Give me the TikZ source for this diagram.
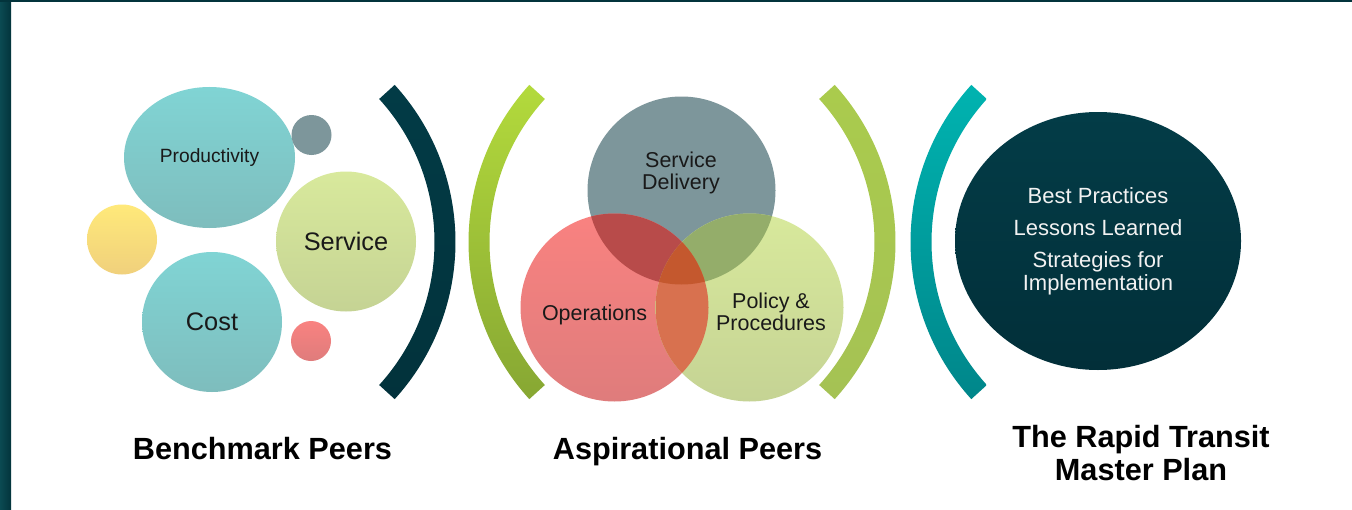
\documentclass[tikz,border=0pt]{standalone}
\usepackage{fontspec}
\setmainfont{Liberation Sans}
\usetikzlibrary{shapes.geometric}

\definecolor{tealtop}{HTML}{80D4D4}
\definecolor{tealbot}{HTML}{7EBDBD}
\definecolor{grntop}{HTML}{D8E99C}
\definecolor{grnbot}{HTML}{C5D394}
\definecolor{yeltop}{HTML}{FFE97A}
\definecolor{yelbot}{HTML}{F0D07C}
\definecolor{redtop}{HTML}{F98280}
\definecolor{redbot}{HTML}{DF7C7C}
\definecolor{slate}{HTML}{7D969B}
\definecolor{darkteal}{HTML}{023B46}
\definecolor{limetop}{HTML}{B3DA3C}
\definecolor{limebot}{HTML}{87A733}
\definecolor{oliveltop}{HTML}{AACB4D}
\definecolor{olivebot}{HTML}{A5C254}
\definecolor{aquatop}{HTML}{00B3B0}
\definecolor{aquabot}{HTML}{00868A}
\definecolor{navytop}{HTML}{033C47}
\definecolor{navybot}{HTML}{022F39}
\definecolor{sdop}{HTML}{B84B4A}
\definecolor{sdpol}{HTML}{94AD6A}
\definecolor{oppol}{HTML}{D8714F}
\definecolor{triple}{HTML}{C4582E}
\definecolor{framedk}{HTML}{03343C}
\definecolor{framelt}{HTML}{0B4A52}

\tikzset{
  bubble/.style={circle, inner sep=0pt, text=black!90},
  venn/.style={circle, inner sep=0pt, minimum size=188*0.75pt},
  vtext/.style={inner sep=0pt, align=center, text=black!90, font=\fontsize{16.1}{16.5}\selectfont},
  heading/.style={inner sep=0pt, align=center, font=\fontsize{23}{24.75}\selectfont\bfseries}
}

\begin{document}
\begin{tikzpicture}[x=0.75pt,y=-0.75pt]
\useasboundingbox (0,0) rectangle (1352,510);
\fill[white] (0,0) rectangle (1352,510);
\shade[left color=framelt, right color=framedk] (0,0) rectangle (11,510);
\fill[framedk] (0,0) rectangle (1352,2);

% benchmark peers
\node[bubble, ellipse, minimum width=171*0.75pt, minimum height=141*0.75pt, top color=tealtop, bottom color=tealbot, font=\fontsize{14.4}{16}\selectfont] (prod) at (209.5,157.5) {Productivity};
\node[bubble, minimum size=40*0.75pt, fill=slate] (dotgray) at (311.5,135) {};
\node[bubble, minimum size=70*0.75pt, top color=yeltop, bottom color=yelbot] (dotyel) at (122,239.5) {};
\node[bubble, minimum size=140*0.75pt, top color=grntop, bottom color=grnbot, font=\fontsize{19}{21}\selectfont] (serv) at (346,241.5) {Service};
\node[bubble, minimum size=140*0.75pt, top color=tealtop, bottom color=tealbot, font=\fontsize{19}{21}\selectfont] (cost) at (212,322) {Cost};
\node[bubble, minimum size=40*0.75pt, top color=redtop, bottom color=redbot] (dotred) at (311,341) {};

% brackets
\shade[top color=darkteal, bottom color=darkteal!85!black, shift={(222,242)}] (-42.3:233.5) arc[start angle=-42.3, end angle=42.3, radius=233.5] -- (42.3:212.5) arc[start angle=42.3, end angle=-42.3, radius=212.5] -- cycle;
\shade[top color=limetop, bottom color=limebot, shift={(702,242)}] (137.7:233.5) arc[start angle=137.7, end angle=222.3, radius=233.5] -- (222.3:212.5) arc[start angle=222.3, end angle=137.7, radius=212.5] -- cycle;
\shade[top color=oliveltop, bottom color=olivebot, shift={(662,242)}] (-42.3:233.5) arc[start angle=-42.3, end angle=42.3, radius=233.5] -- (42.3:212.5) arc[start angle=42.3, end angle=-42.3, radius=212.5] -- cycle;
\shade[top color=aquatop, bottom color=aquabot, shift={(1144,242)}] (137.7:233.5) arc[start angle=137.7, end angle=222.3, radius=233.5] -- (222.3:212.5) arc[start angle=222.3, end angle=137.7, radius=212.5] -- cycle;

% aspirational peers
\node[venn, fill=slate] (sd) at (681.5,190.5) {};
\node[venn, top color=redtop, bottom color=redbot] (ops) at (614.5,307.5) {};
\node[venn, top color=grntop, bottom color=grnbot] (pol) at (749.5,307.5) {};
\begin{scope}
  \clip (sd) circle[radius=94];
  \fill[sdop] (ops) circle[radius=94];
  \fill[sdpol] (pol) circle[radius=94];
\end{scope}
\begin{scope}
  \clip (ops) circle[radius=94];
  \fill[oppol] (pol) circle[radius=94];
  \clip (sd) circle[radius=94];
  \fill[triple] (pol) circle[radius=94];
\end{scope}
\node[vtext] (sdtext) at (681,172.5) {Service\\Delivery};
\node[vtext, anchor=base] (optext) at (594.5,320) {Operations};
\node[vtext] (poltext) at (771,311.8) {Policy \&\\Procedures};

% master plan
\node[ellipse, inner sep=0pt, minimum width=286*0.75pt, minimum height=258*0.75pt, top color=navytop, bottom color=navybot, text=white!95!black, align=center, font=\fontsize{16.5}{17.25}\selectfont] (lessons) at (1098,241) {Best Practices\\[6.75pt]Lessons Learned\\[6.75pt]Strategies for\\Implementation};

\node[heading, anchor=base] (bench) at (262.5,459) {Benchmark Peers};
\node[heading, anchor=base] (aspir) at (687.5,459) {Aspirational Peers};
\node[heading] (rtmp) at (1141,453.3) {The Rapid Transit\\Master Plan};
\end{tikzpicture}
\end{document}
